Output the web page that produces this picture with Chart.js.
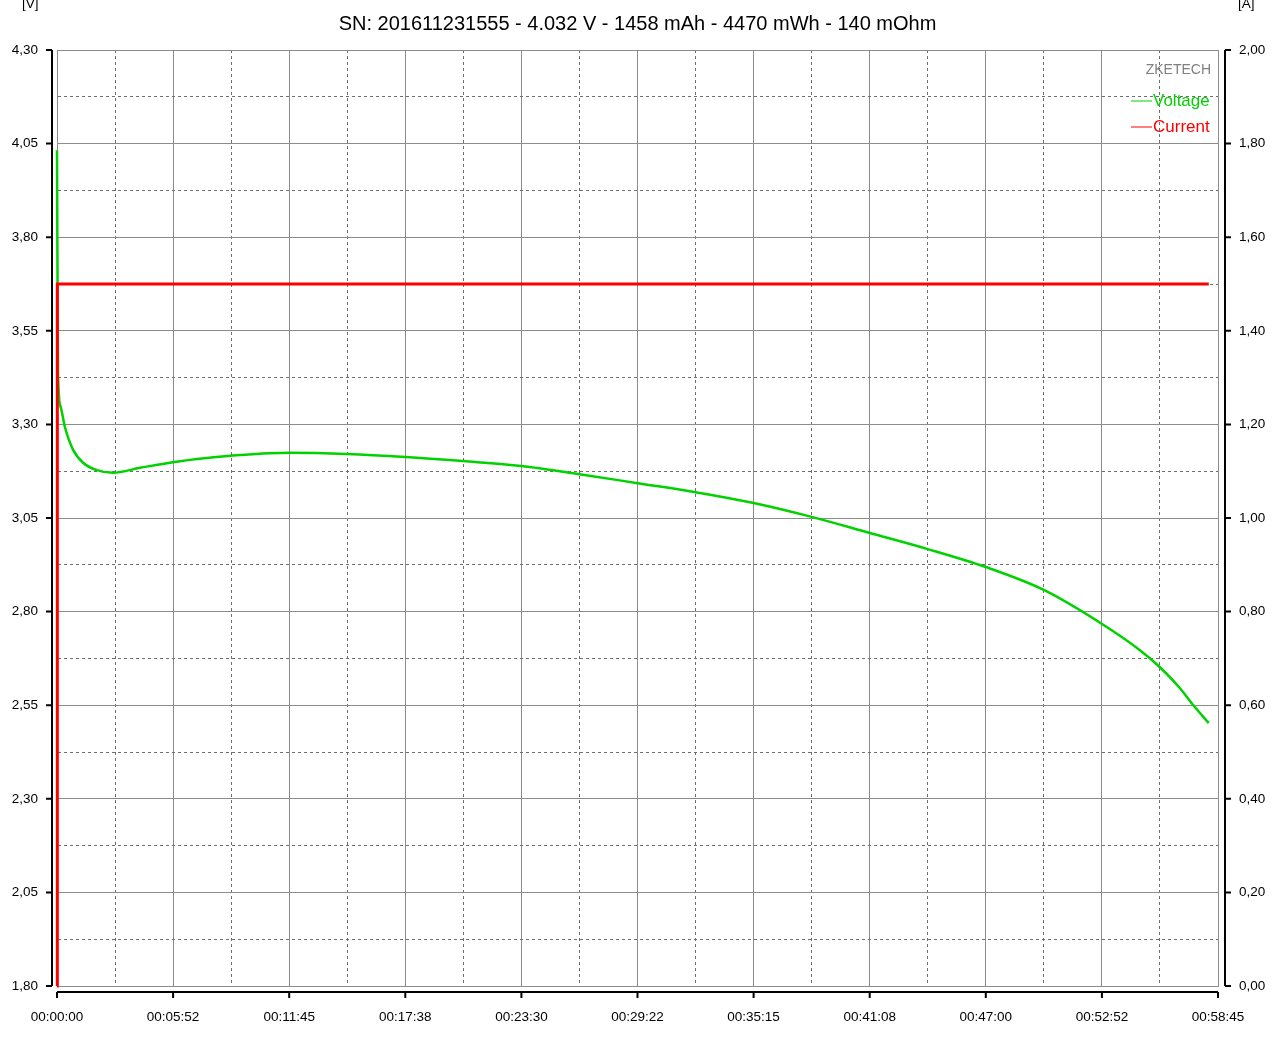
<!DOCTYPE html>
<html lang="en">
<head>
<meta charset="UTF-8">
<title>ZKETECH discharge</title>
<script src="https://cdn.jsdelivr.net/npm/chart.js"></script>
<style>
  body { margin: 0; background: #fff; }
</style>
</head>
<body>
<canvas id="chart" width="1280" height="1043"></canvas>
<script>
const chartTitle = "SN: 201611231555 - 4.032 V - 1458 mAh - 4470 mWh - 140 mOhm"

// time in seconds since start of the test
const voltageTime = [0, 3, 11, 24, 49, 80, 121, 170, 252, 352, 455, 556, 705, 880, 1058, 1233, 1410, 1586, 1763, 1939, 2115, 2291, 2468, 2644, 2820, 2996, 3173, 3288, 3348, 3409, 3449, 3497]
const voltage = [4.032, 3.440, 3.347, 3.293, 3.232, 3.197, 3.178, 3.171, 3.184, 3.199, 3.210, 3.218, 3.224, 3.221, 3.213, 3.202, 3.189, 3.167, 3.143, 3.119, 3.090, 3.053, 3.010, 2.967, 2.919, 2.858, 2.767, 2.697, 2.652, 2.596, 2.551, 2.502]

const currentTime = [0, 1, 3497]
const current = [0, 1.5, 1.5]

const xTickValues = [0, 352.5, 705, 1057.5, 1410, 1762.5, 2115, 2467.5, 2820, 3172.5, 3525]
const xTickLabels = ["00:00:00", "00:05:52", "00:11:45", "00:17:38", "00:23:30", "00:29:22", "00:35:15", "00:41:08", "00:47:00", "00:52:52", "00:58:45"]
const vTickValues = [1.80, 2.05, 2.30, 2.55, 2.80, 3.05, 3.30, 3.55, 3.80, 4.05, 4.30]
const vTickLabels = ["1,80", "2,05", "2,30", "2,55", "2,80", "3,05", "3,30", "3,55", "3,80", "4,05", "4,30"]
const aTickValues = [0, 0.2, 0.4, 0.6, 0.8, 1.0, 1.2, 1.4, 1.6, 1.8, 2.0]
const aTickLabels = ["0,00", "0,20", "0,40", "0,60", "0,80", "1,00", "1,20", "1,40", "1,60", "1,80", "2,00"]

const GREEN = "#00d200"
const RED = "#ff0000"
const SOLID = "#8c8c8c"
const DASHED = "#6e6e6e"
const FONT = "'Liberation Sans', Arial, sans-serif"

// major ticks plus one minor (dashed) tick half way between each pair
function withMinor(values) {
  const out = []
  values.forEach((v, i) => {
    out.push({ value: v })
    if (i < values.length - 1) out.push({ value: (v + values[i + 1]) / 2 })
  })
  return out
}

function toPoints(xs, ys) {
  return xs.map((x, i) => ({ x: x, y: ys[i] }))
}

const gridStyle = {
  color: c => (c.index % 2 ? DASHED : SOLID),
  lineWidth: 1,
  drawTicks: false,
}
const borderStyle = {
  color: SOLID,
  width: 1,
  dash: c => (c.index % 2 ? [3, 3] : []),
}

const axisLines = {
  id: "axisLines",
  afterDraw(chart) {
    const { ctx, chartArea: a, scales } = chart
    ctx.save()
    ctx.strokeStyle = "#000"
    ctx.lineWidth = 2
    ctx.beginPath()
    const lx = a.left - 5
    ctx.moveTo(lx, a.top)
    ctx.lineTo(lx, a.bottom)
    vTickValues.forEach(v => {
      const y = scales.y.getPixelForValue(v)
      ctx.moveTo(lx - 6, y)
      ctx.lineTo(lx, y)
    })
    const rx = a.right + 7
    ctx.moveTo(rx, a.top)
    ctx.lineTo(rx, a.bottom)
    aTickValues.forEach(v => {
      const y = scales.y2.getPixelForValue(v)
      ctx.moveTo(rx, y)
      ctx.lineTo(rx + 6, y)
    })
    const by = a.bottom + 6
    ctx.moveTo(a.left, by)
    ctx.lineTo(a.right, by)
    xTickValues.forEach(v => {
      const x = scales.x.getPixelForValue(v)
      ctx.moveTo(x, by)
      ctx.lineTo(x, by + 6)
    })
    ctx.stroke()

    // unit labels
    ctx.fillStyle = "#000"
    ctx.font = "13.5px " + FONT
    ctx.textBaseline = "bottom"
    ctx.textAlign = "left"
    ctx.fillText("[V]", 22, 11)
    ctx.fillText("[A]", 1238, 11)

    // legend box in the upper right corner
    ctx.textAlign = "right"
    ctx.textBaseline = "middle"
    ctx.font = "14px " + FONT
    ctx.fillStyle = "#808080"
    ctx.fillText("ZKETECH", a.right - 7, a.top + 20)
    ctx.font = "17px " + FONT
    const rows = [chart.data.datasets[1], chart.data.datasets[0]]
    rows.forEach((ds, i) => {
      const y = a.top + 51 + i * 26
      ctx.strokeStyle = ds.borderColor
      ctx.lineWidth = 1
      ctx.beginPath()
      ctx.moveTo(a.right - 87, y)
      ctx.lineTo(a.right - 66, y)
      ctx.stroke()
      ctx.fillStyle = ds.borderColor
      ctx.textAlign = "left"
      ctx.fillText(ds.label, a.right - 65, y)
    })
    ctx.restore()
  },
}

new Chart(document.getElementById("chart"), {
  type: "line",
  data: {
    datasets: [
      {
        label: "Current",
        data: toPoints(currentTime, current),
        yAxisID: "y2",
        borderColor: RED,
        borderWidth: 3,
        pointRadius: 0,
        tension: 0,
        clip: false,
        order: 0,
      },
      {
        label: "Voltage",
        data: toPoints(voltageTime, voltage),
        yAxisID: "y",
        borderColor: GREEN,
        borderWidth: 2.5,
        pointRadius: 0,
        cubicInterpolationMode: "monotone",
        clip: false,
        order: 1,
      },
    ],
  },
  options: {
    responsive: false,
    animation: false,
    layout: { padding: 0 },
    plugins: {
      legend: { display: false },
      tooltip: { enabled: false },
      title: {
        display: true,
        text: chartTitle,
        fullSize: false,
        color: "#000",
        font: { family: FONT, size: 20, weight: "normal", lineHeight: 1.2 },
        padding: { top: 12, bottom: 14 },
      },
    },
    scales: {
      x: {
        type: "linear",
        min: 0,
        max: 3525,
        afterBuildTicks: s => { s.ticks = withMinor(xTickValues) },
        afterFit: s => { s.height = 57 },
        grid: gridStyle,
        border: borderStyle,
        ticks: {
          autoSkip: false,
          maxRotation: 0,
          padding: 23,
          color: "#000",
          font: { family: FONT, size: 13.5 },
          callback: (v, i) => (i % 2 ? "" : xTickLabels[i / 2]),
        },
      },
      y: {
        type: "linear",
        position: "left",
        min: 1.8,
        max: 4.3,
        afterBuildTicks: s => { s.ticks = withMinor(vTickValues) },
        afterFit: s => { s.width = 57 },
        grid: gridStyle,
        border: borderStyle,
        ticks: {
          autoSkip: false,
          padding: 19,
          color: "#000",
          font: { family: FONT, size: 13.5 },
          callback: (v, i) => (i % 2 ? "" : vTickLabels[i / 2]),
        },
      },
      y2: {
        type: "linear",
        position: "right",
        min: 0,
        max: 2,
        afterBuildTicks: s => { s.ticks = aTickValues.map(v => ({ value: v })) },
        afterFit: s => { s.width = 62 },
        grid: { drawOnChartArea: false, drawTicks: false },
        border: { color: SOLID, width: 1 },
        ticks: {
          autoSkip: false,
          padding: 21,
          color: "#000",
          font: { family: FONT, size: 13.5 },
          callback: (v, i) => aTickLabels[i],
        },
      },
    },
  },
  plugins: [axisLines],
})
</script>
</body>
</html>
